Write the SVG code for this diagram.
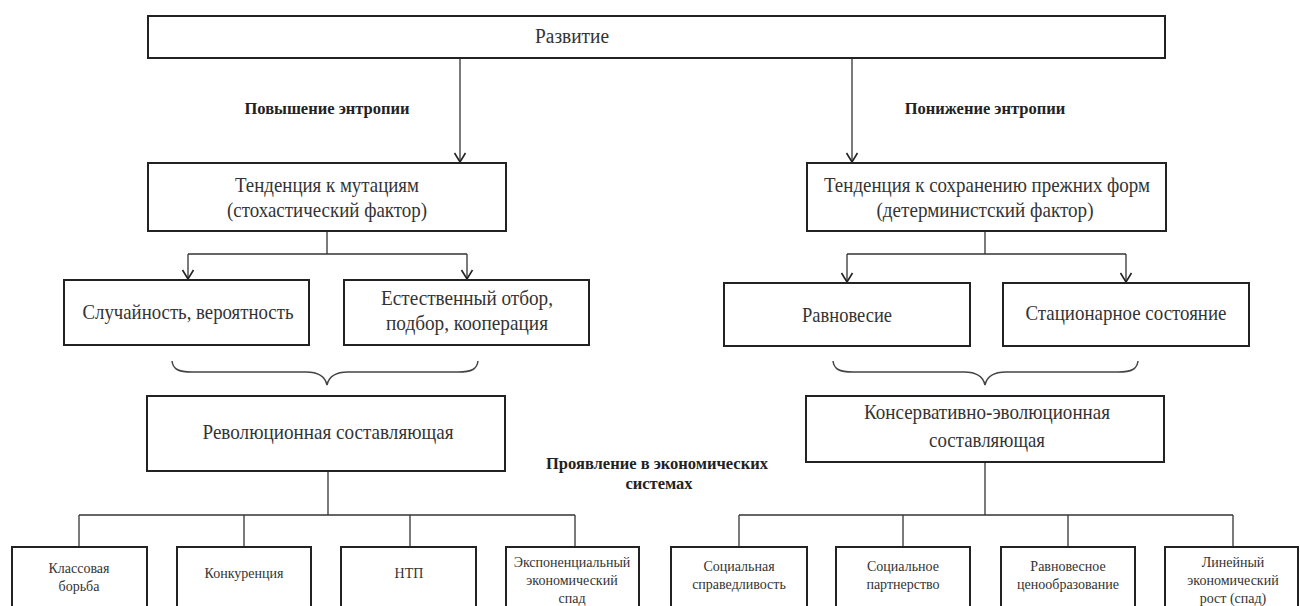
<svg xmlns="http://www.w3.org/2000/svg" width="1300" height="606" viewBox="0 0 1300 606">
<style>
  .box { fill: #ffffff; stroke: #222222; stroke-width: 2; }
  .ln { fill: none; stroke: #333333; stroke-width: 1.3; }
  .brace { fill: none; stroke: #444444; stroke-width: 1.5; }
  text { font-family: "Liberation Serif", "Times New Roman", serif; fill: #333333; text-anchor: middle; dominant-baseline: central; }
  .t20 { font-size: 21px; }
  .t19 { font-size: 20px; }
  .t14 { font-size: 14px; }
  .lbl { font-size: 16.5px; font-weight: bold; fill: #222222; }
</style>
<defs>
  <marker id="arr" viewBox="-11 -7 13 14" markerWidth="13" markerHeight="14" refX="0" refY="0" orient="auto" markerUnits="userSpaceOnUse">
    <path d="M-9,-5.5 L0,0 L-9,5.5" fill="none" stroke="#222222" stroke-width="1.6"/>
  </marker>
</defs>
<rect width="1300" height="606" fill="#ffffff"/>

<g id="connectors">
  <line class="ln" x1="460" y1="58" x2="460" y2="162" marker-end="url(#arr)"/>
  <line class="ln" x1="852" y1="58" x2="852" y2="162" marker-end="url(#arr)"/>
  <polyline class="ln" points="327,231 327,254"/>
  <line class="ln" x1="188" y1="254" x2="467" y2="254"/>
  <line class="ln" x1="188" y1="254" x2="188" y2="279" marker-end="url(#arr)"/>
  <line class="ln" x1="467" y1="254" x2="467" y2="279" marker-end="url(#arr)"/>
  <polyline class="ln" points="985,231 985,254"/>
  <line class="ln" x1="847" y1="254" x2="1126" y2="254"/>
  <line class="ln" x1="847" y1="254" x2="847" y2="282" marker-end="url(#arr)"/>
  <line class="ln" x1="1126" y1="254" x2="1126" y2="282" marker-end="url(#arr)"/>
  <path class="brace" d="M172,361 C173,369 178,372 192,372 L306,372 C318,372 325,376 327,385 C329,376 336,372 348,372 L458,372 C472,372 477,369 478,361"/>
  <path class="brace" d="M833,361 C834,369 839,372 853,372 L964,372 C976,372 983,376 985,385 C987,376 994,372 1006,372 L1118,372 C1132,372 1137,369 1138,361"/>
  <line class="ln" x1="328" y1="471" x2="328" y2="515"/>
  <line class="ln" x1="79" y1="515" x2="575" y2="515"/>
  <line class="ln" x1="79" y1="515" x2="79" y2="547"/>
  <line class="ln" x1="244" y1="515" x2="244" y2="547"/>
  <line class="ln" x1="410" y1="515" x2="410" y2="547"/>
  <line class="ln" x1="575" y1="515" x2="575" y2="547"/>
  <line class="ln" x1="985" y1="462" x2="985" y2="515"/>
  <line class="ln" x1="739" y1="515" x2="1233" y2="515"/>
  <line class="ln" x1="739" y1="515" x2="739" y2="547"/>
  <line class="ln" x1="903" y1="515" x2="903" y2="547"/>
  <line class="ln" x1="1068" y1="515" x2="1068" y2="547"/>
  <line class="ln" x1="1233" y1="515" x2="1233" y2="547"/>
</g>

<g id="labels">
  <text class="lbl" x="327" y="108">Повышение энтропии</text>
  <text class="lbl" x="985" y="108">Понижение энтропии</text>
  <text class="lbl" x="657" y="463">Проявление в экономических</text>
  <text class="lbl" x="659" y="483">системах</text>
</g>

<g id="node-razvitie">
  <rect class="box" x="148" y="16" width="1017" height="42"/>
  <text class="t19" x="572" y="36" textLength="74" lengthAdjust="spacingAndGlyphs">Развитие</text>
</g>

<g id="node-mutacii">
  <rect class="box" x="148" y="163" width="358" height="68"/>
  <text class="t20" x="327" y="185" textLength="184" lengthAdjust="spacingAndGlyphs">Тенденция к мутациям</text>
  <text class="t20" x="327" y="210" textLength="200" lengthAdjust="spacingAndGlyphs">(стохастический фактор)</text>
</g>

<g id="node-sohranenie">
  <rect class="box" x="807" y="163" width="359" height="68"/>
  <text class="t20" x="987" y="185" textLength="326" lengthAdjust="spacingAndGlyphs">Тенденция к сохранению прежних форм</text>
  <text class="t20" x="985" y="210" textLength="217" lengthAdjust="spacingAndGlyphs">(детерминистский фактор)</text>
</g>

<g id="node-sluchainost">
  <rect class="box" x="64" y="280" width="245" height="65"/>
  <text class="t20" x="188" y="312" textLength="211" lengthAdjust="spacingAndGlyphs">Случайность, вероятность</text>
</g>

<g id="node-otbor">
  <rect class="box" x="344" y="280" width="245" height="65"/>
  <text class="t20" x="467" y="298" textLength="172" lengthAdjust="spacingAndGlyphs">Естественный отбор,</text>
  <text class="t20" x="467" y="323" textLength="162" lengthAdjust="spacingAndGlyphs">подбор, кооперация</text>
</g>

<g id="node-ravnovesie">
  <rect class="box" x="724" y="283" width="246" height="63"/>
  <text class="t20" x="847" y="315" textLength="90" lengthAdjust="spacingAndGlyphs">Равновесие</text>
</g>

<g id="node-stacionarnoe">
  <rect class="box" x="1003" y="283" width="246" height="63"/>
  <text class="t20" x="1126" y="313" textLength="201" lengthAdjust="spacingAndGlyphs">Стационарное состояние</text>
</g>

<g id="node-revolyucionnaya">
  <rect class="box" x="147" y="396" width="358" height="75"/>
  <text class="t20" x="328" y="432" textLength="251" lengthAdjust="spacingAndGlyphs">Революционная составляющая</text>
</g>

<g id="node-konservativnaya">
  <rect class="box" x="806" y="396" width="358" height="66"/>
  <text class="t20" x="987" y="412" textLength="246" lengthAdjust="spacingAndGlyphs">Консервативно-эволюционная</text>
  <text class="t20" x="987" y="440" textLength="116" lengthAdjust="spacingAndGlyphs">составляющая</text>
</g>

<g id="node-klassovaya">
  <rect class="box" x="12" y="547" width="135" height="80"/>
  <text class="t14" x="79" y="568">Классовая</text>
  <text class="t14" x="79" y="586">борьба</text>
</g>

<g id="node-konkurenciya">
  <rect class="box" x="177" y="547" width="134" height="80"/>
  <text class="t14" x="244" y="573">Конкуренция</text>
</g>

<g id="node-ntp">
  <rect class="box" x="341" y="547" width="135" height="80"/>
  <text class="t14" x="409" y="573">НТП</text>
</g>

<g id="node-eksponencialny">
  <rect class="box" x="506" y="547" width="133" height="80"/>
  <text class="t14" x="572" y="562">Экспоненциальный</text>
  <text class="t14" x="572" y="580">экономический</text>
  <text class="t14" x="572" y="598">спад</text>
</g>

<g id="node-spravedlivost">
  <rect class="box" x="671" y="547" width="136" height="80"/>
  <text class="t14" x="739" y="566">Социальная</text>
  <text class="t14" x="739" y="584">справедливость</text>
</g>

<g id="node-partnerstvo">
  <rect class="box" x="836" y="547" width="134" height="80"/>
  <text class="t14" x="903" y="566">Социальное</text>
  <text class="t14" x="903" y="584">партнерство</text>
</g>

<g id="node-cenoobrazovanie">
  <rect class="box" x="1001" y="547" width="134" height="80"/>
  <text class="t14" x="1068" y="566">Равновесное</text>
  <text class="t14" x="1068" y="584">ценообразование</text>
</g>

<g id="node-lineiny">
  <rect class="box" x="1165" y="547" width="133" height="80"/>
  <text class="t14" x="1233" y="562">Линейный</text>
  <text class="t14" x="1233" y="580">экономический</text>
  <text class="t14" x="1233" y="598">рост (спад)</text>
</g>
</svg>
